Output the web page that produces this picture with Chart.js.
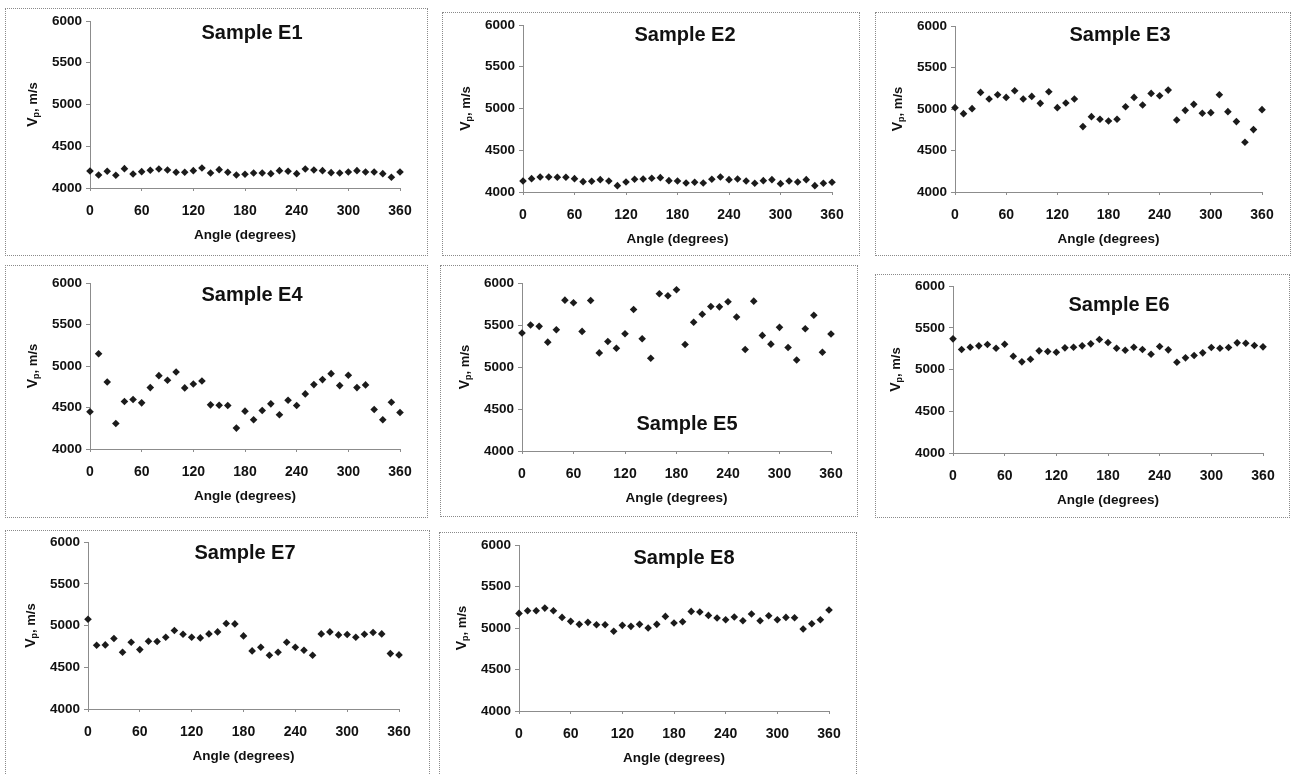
<!DOCTYPE html>
<html><head><meta charset="utf-8">
<script src="https://cdn.jsdelivr.net/npm/chart.js@4.4.1/dist/chart.umd.min.js"></script>
<style>
html,body{margin:0;padding:0;background:#fff;width:1295px;height:775px;overflow:hidden;position:relative;}
.box{position:absolute;border:1px dotted #8a8a8a;box-sizing:border-box;}
canvas{position:absolute;}
</style></head><body>
<script>
// ---------- data ----------
const angles = [0,10,20,30,40,50,60,70,80,90,100,110,120,130,140,150,160,170,180,190,200,210,220,230,240,250,260,270,280,290,300,310,320,330,340,350,360];
const xTickValues = [0,60,120,180,240,300,360];
const yTickValues = [4000,4500,5000,5500,6000];
const sampleNames = ["Sample E1","Sample E2","Sample E3","Sample E4","Sample E5","Sample E6","Sample E7","Sample E8"];
const xAxisTitle = "Angle (degrees)";

const vpE1 = [4204,4156,4200,4152,4232,4168,4196,4212,4228,4216,4188,4188,4208,4240,4180,4220,4188,4156,4164,4180,4180,4172,4208,4200,4172,4228,4216,4208,4184,4180,4192,4208,4192,4192,4172,4128,4192];
const vpE2 = [4132,4160,4180,4180,4176,4176,4160,4124,4128,4148,4132,4076,4120,4152,4156,4164,4172,4136,4132,4108,4116,4108,4152,4180,4148,4156,4132,4104,4136,4148,4100,4132,4120,4148,4076,4104,4116];
const vpE3 = [5016,4944,5004,5200,5120,5172,5140,5220,5120,5152,5068,5208,5016,5072,5120,4788,4908,4876,4856,4876,5028,5140,5048,5188,5160,5228,4868,4984,5056,4948,4956,5172,4968,4848,4600,4752,4992];
const vpE4 = [4448,5148,4808,4308,4572,4596,4556,4740,4884,4828,4928,4736,4784,4820,4532,4528,4524,4252,4456,4352,4464,4544,4412,4588,4524,4664,4776,4836,4908,4764,4888,4740,4772,4476,4352,4564,4440];
const vpE5 = [5404,5500,5484,5296,5444,5796,5764,5424,5792,5168,5304,5224,5396,5684,5336,5104,5872,5848,5920,5268,5532,5628,5720,5716,5776,5596,5208,5784,5376,5272,5472,5232,5084,5456,5616,5176,5392];
const vpE6 = [5368,5240,5268,5284,5300,5256,5304,5160,5092,5124,5224,5216,5208,5260,5268,5284,5308,5360,5324,5256,5232,5268,5240,5184,5276,5236,5088,5140,5168,5200,5264,5256,5264,5320,5316,5288,5272];
const vpE7 = [5076,4764,4768,4844,4680,4800,4712,4812,4808,4860,4940,4896,4860,4852,4900,4924,5024,5020,4876,4696,4740,4644,4680,4800,4740,4704,4644,4900,4924,4888,4892,4860,4896,4916,4900,4664,4648];
const vpE8 = [5176,5208,5208,5240,5208,5128,5080,5044,5068,5040,5040,4960,5032,5020,5044,5000,5044,5140,5060,5076,5200,5192,5152,5120,5100,5132,5088,5168,5088,5148,5100,5128,5124,4988,5052,5100,5216];
const seriesList = [vpE1,vpE2,vpE3,vpE4,vpE5,vpE6,vpE7,vpE8];

// ---------- layout (page pixels) ----------
const panels = [
  {box:[5,8,423,248],   plot:[90,21,400,188],   title:[252,33]},
  {box:[442,12,418,244],plot:[523,25,832,192],  title:[685,35]},
  {box:[875,12,416,244],plot:[955,26,1262,192], title:[1120,35]},
  {box:[5,265,423,253], plot:[90,283,400,449],  title:[252,295]},
  {box:[440,265,418,252],plot:[522,283,831,451],title:[687,424]},
  {box:[875,274,415,244],plot:[953,286,1263,453],title:[1119,305]},
  {box:[5,530,425,250], plot:[88,542,399,709],  title:[245,553]},
  {box:[439,532,418,250],plot:[519,545,829,711],title:[684,558]}
];
const FONT = '"Liberation Sans", Arial, Helvetica, sans-serif';
const YW = 60, XH = 55;

const panelText = {
  id:'panelText',
  afterDraw(chart, args, opts){
    const ctx = chart.ctx, ca = chart.chartArea;
    ctx.save();
    ctx.fillStyle = '#111';
    ctx.font = 'bold 20px ' + FONT;
    ctx.textAlign = 'center'; ctx.textBaseline = 'middle';
    ctx.fillText(opts.title, opts.tx, opts.ty);
    const cx = ca.left - 57, cy = (ca.top + ca.bottom)/2;
    ctx.translate(cx, cy); ctx.rotate(-Math.PI/2);
    ctx.textAlign = 'left'; ctx.textBaseline = 'middle';
    ctx.font = 'bold 14px ' + FONT;
    const wV = ctx.measureText('V').width;
    ctx.font = 'bold 9px ' + FONT;
    const wp = ctx.measureText('p').width;
    ctx.font = 'bold 13px ' + FONT;
    const wr = ctx.measureText(', m/s').width;
    const tot = wV + wp + wr;
    let x = -tot/2;
    ctx.font = 'bold 14px ' + FONT;
    ctx.fillText('V', x, 0); x += wV;
    ctx.font = 'bold 9px ' + FONT;
    ctx.fillText('p', x, 4); x += wp;
    ctx.font = 'bold 13px ' + FONT;
    ctx.fillText(', m/s', x, 0);
    ctx.restore();
  }
};

panels.forEach((p, i) => {
  const [bx, by, bw, bh] = p.box;
  const div = document.createElement('div');
  div.className = 'box';
  Object.assign(div.style, {left: bx+'px', top: by+'px', width: bw+'px', height: bh+'px'});
  document.body.appendChild(div);
  const cv = document.createElement('canvas');
  cv.width = bw; cv.height = bh;
  Object.assign(cv.style, {left: bx+'px', top: by+'px', width: bw+'px', height: bh+'px'});
  document.body.appendChild(cv);

  const [px0, py0, px1, py1] = p.plot;
  const pad = {
    left: px0 - bx - YW,
    top: py0 - by,
    right: bx + bw - px1,
    bottom: by + bh - py1 - XH
  };
  const vals = seriesList[i];
  new Chart(cv, {
    type: 'scatter',
    data: { datasets: [{
      data: angles.map((a, k) => ({x: a, y: vals[k]})),
      pointStyle: 'rectRot', radius: 3.8, hoverRadius: 3.8,
      backgroundColor: '#1b1b1b', borderColor: '#1b1b1b', borderWidth: 0,
      clip: false
    }]},
    options: {
      responsive: false, animation: false, devicePixelRatio: 1,
      layout: { padding: pad },
      plugins: {
        legend: {display: false}, tooltip: {enabled: false}, title: {display: false},
        panelText: { title: sampleNames[i], tx: p.title[0] - bx, ty: p.title[1] - by }
      },
      scales: {
        x: {
          type: 'linear', min: 0, max: 360,
          afterBuildTicks: s => { s.ticks = xTickValues.map(v => ({value: v})); },
          afterFit: s => { s.height = XH; },
          grid: {display: true, drawOnChartArea: false, drawTicks: true, tickLength: 3, color: '#8c8c8c'},
          border: {display: true, color: '#8c8c8c', width: 1, dash: [2, 1]},
          ticks: {color: '#111', font: {family: FONT, size: 14, weight: 'bold'}, padding: 12, maxRotation: 0, autoSkip: false,
                  callback: v => String(v)},
          title: {display: true, text: xAxisTitle, color: '#111', padding: 0, font: {family: FONT, size: 13.5, weight: 'bold'}}
        },
        y: {
          type: 'linear', min: 4000, max: 6000,
          afterBuildTicks: s => { s.ticks = yTickValues.map(v => ({value: v})); },
          afterFit: s => { s.width = YW; },
          grid: {display: true, drawOnChartArea: false, drawTicks: true, tickLength: 4, color: '#8c8c8c'},
          border: {display: true, color: '#8c8c8c', width: 1, dash: [2, 1]},
          ticks: {color: '#111', font: {family: FONT, size: 13.5, weight: 'bold'}, padding: 4, autoSkip: false,
                  callback: v => String(v)}
        }
      }
    },
    plugins: [panelText]
  });
});
</script>
</body></html>
